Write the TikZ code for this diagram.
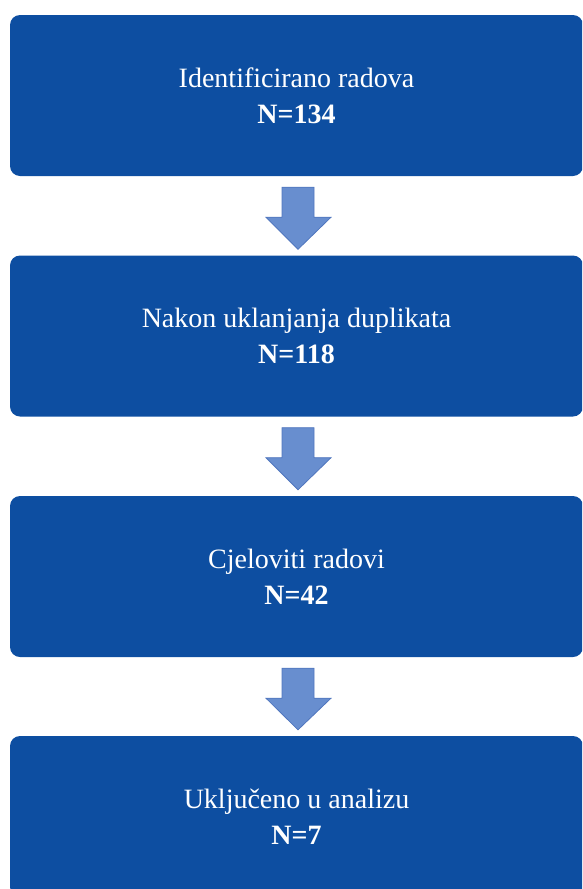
\documentclass[tikz,border=0pt]{standalone}
\usepackage{fontspec}
\setmainfont{Liberation Serif}
\usetikzlibrary{calc}
\definecolor{boxblue}{RGB}{13,78,161}
\definecolor{arrowfill}{RGB}{104,142,207}
\definecolor{arrowline}{RGB}{80,118,190}
\tikzset{
  flowbox/.style={fill=boxblue, draw=none, rounded corners=10pt,
    minimum width=573pt, minimum height=161pt, inner sep=0pt,
    text=white, align=center, font=\fontsize{28}{36}\selectfont},
  blockarrow/.style={fill=arrowfill, draw=arrowline, line width=0.8pt, line join=miter}
}
\newcommand{\downarrowbetween}[2]{%
  \draw[blockarrow]
    ($(#1.south)+(-14.5pt,-11pt)$) -- ($(#1.south)+(17.5pt,-11pt)$)
    -- ($(#1.south)+(17.5pt,-41pt)$) -- ($(#1.south)+(34.5pt,-41pt)$)
    -- ($(#2.north)+(1.5pt,6pt)$)
    -- ($(#1.south)+(-30.5pt,-41pt)$) -- ($(#1.south)+(-14.5pt,-41pt)$) -- cycle;}
\begin{document}
\begin{tikzpicture}[x=1pt,y=1pt]
\useasboundingbox (0,0) rectangle (582,-889);
\clip (0,0) rectangle (582,-889);
\node[flowbox] (b1) at (296.5,-95.5) {Identificirano radova\\\textbf{N=134}};
\node[flowbox] (b2) at (296.5,-336) {Nakon uklanjanja duplikata\\\textbf{N=118}};
\node[flowbox] (b3) at (296.5,-576.5) {Cjeloviti radovi\\\textbf{N=42}};
\node[flowbox] (b4) at (296.5,-816.5) {Uključeno u analizu\\\textbf{N=7}};
\downarrowbetween{b1}{b2}
\downarrowbetween{b2}{b3}
\downarrowbetween{b3}{b4}
\end{tikzpicture}
\end{document}
